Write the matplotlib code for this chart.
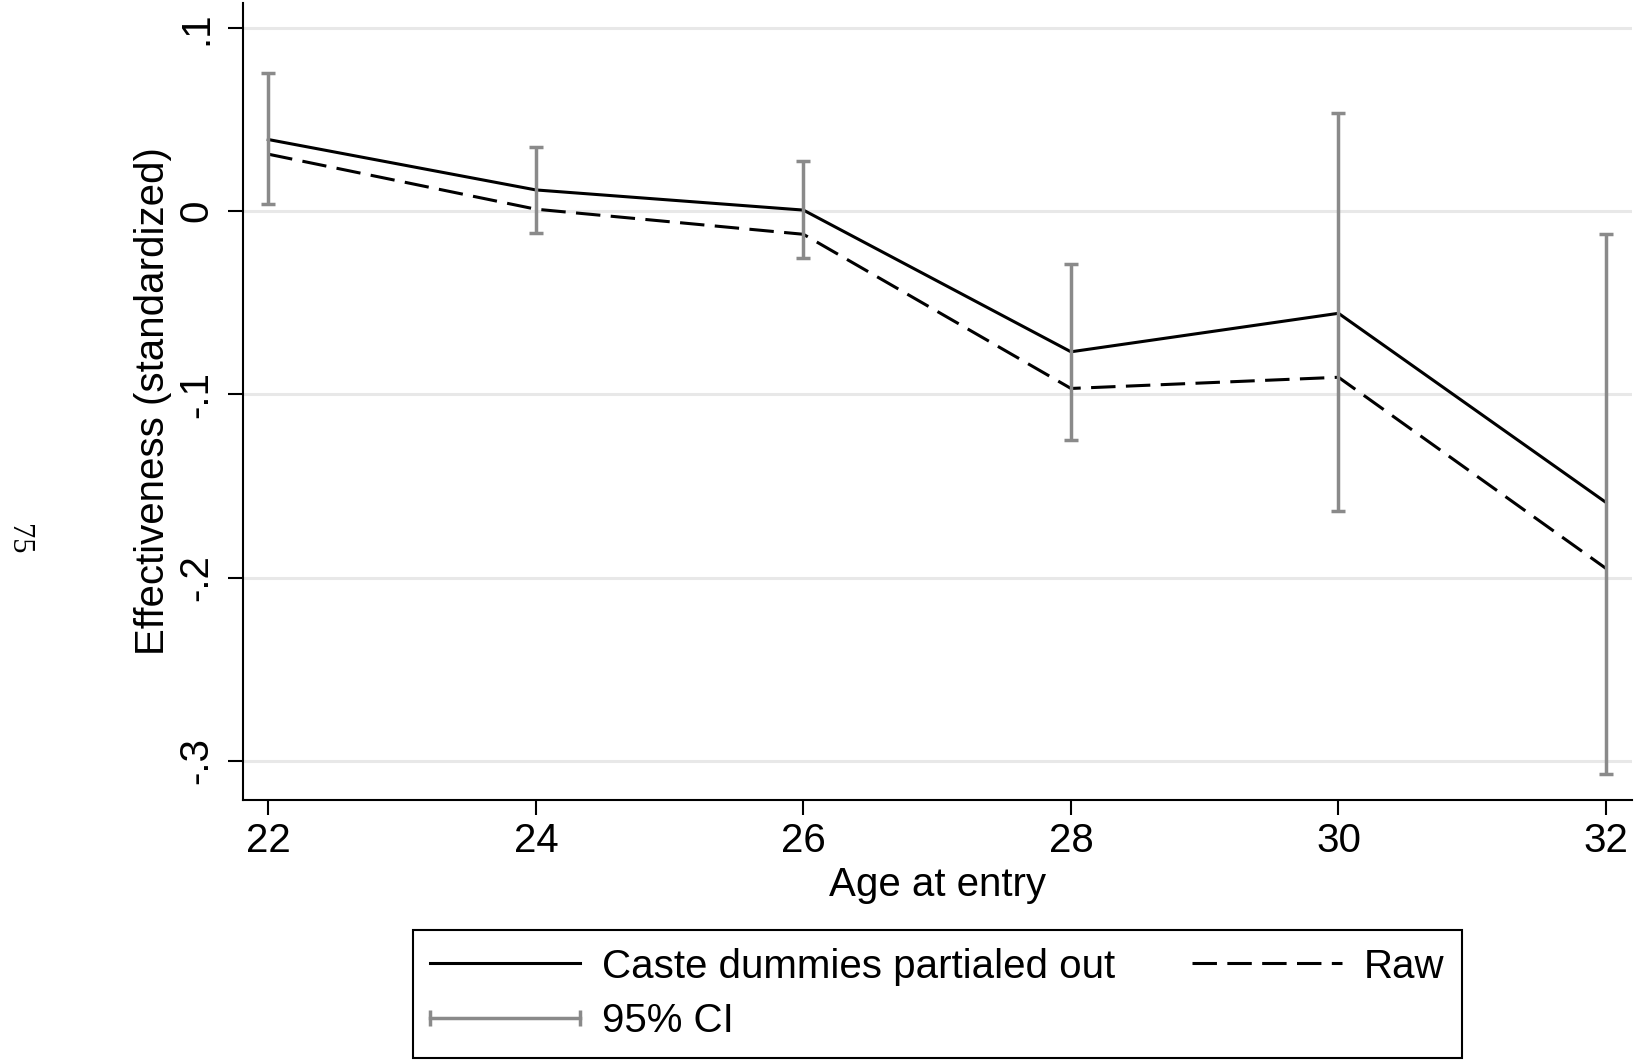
import matplotlib
matplotlib.use('Agg')
import matplotlib.pyplot as plt
from matplotlib.lines import Line2D
from matplotlib.legend_handler import HandlerLine2D

plt.rcParams['font.family'] = ['Liberation Sans', 'DejaVu Sans']

# Data
age = [22, 24, 26, 28, 30, 32]
partialed = [0.039, 0.0115, 0.0005, -0.0768, -0.0558, -0.159]
raw = [0.031, 0.001, -0.0127, -0.0968, -0.0907, -0.195]
ci_upper = [0.0751, 0.035, 0.0273, -0.029, 0.0536, -0.0124]
ci_lower = [0.004, -0.0118, -0.0255, -0.1247, -0.1636, -0.307]

y_ticks = [0.1, 0, -0.1, -0.2, -0.3]
y_ticklabels = ['.1', '0', '-.1', '-.2', '-.3']
x_ticks = [22, 24, 26, 28, 30, 32]

W, H = 1637, 1061
fig = plt.figure(figsize=(W / 100, H / 100), dpi=100)
ax = fig.add_axes([243 / W, 1 - 800 / H, (1632 - 243) / W, (800 - 3) / H])

gray = '#8a8a8a'
fs = 29
dash = (0, (8.0, 3.4))

# grid lines
for y in y_ticks:
    ax.axhline(y, color='#e8e8e8', linewidth=2.2, zorder=0)

# confidence intervals
mid = [(u + l) / 2 for u, l in zip(ci_upper, ci_lower)]
err = [[m - l for m, l in zip(mid, ci_lower)], [u - m for u, m in zip(ci_upper, mid)]]
ax.errorbar(age, mid, yerr=err, fmt='none', ecolor=gray, elinewidth=2.5,
            capsize=5.2, capthick=2.5, zorder=3)

ax.plot(age, partialed, color='black', linewidth=2.2, zorder=2)
ax.plot(age, raw, color='black', linewidth=2.2, linestyle=dash, zorder=2)

ax.set_xlim(21.811, 32.194)
ax.set_ylim(-0.3213, 0.11347)
ax.set_xticks(x_ticks)
ax.set_yticks(y_ticks)
ax.set_yticklabels(y_ticklabels)

for side in ['top', 'right']:
    ax.spines[side].set_visible(False)
for side in ['left', 'bottom']:
    ax.spines[side].set_linewidth(1.5)

ax.tick_params(axis='both', direction='out', length=10.8, width=1.5, labelsize=fs)
ax.tick_params(axis='x', pad=5)
ax.tick_params(axis='y', pad=9, labelrotation=90)
for lab in ax.get_yticklabels():
    lab.set_verticalalignment('center')

ax.set_xlabel('Age at entry', fontsize=fs)
ax.set_ylabel('Effectiveness (standardized)', fontsize=fs)
ax.xaxis.set_label_coords(0.5, -0.083)
ax.yaxis.set_label_coords(-0.0508, 0.5)

# legend
h_solid = Line2D([], [], color='black', linewidth=2.2)
h_raw = Line2D([], [], color='black', linewidth=2.2, linestyle=dash)
h_ci = Line2D([], [], color=gray, linewidth=2.5, marker='|', markersize=12,
              markeredgewidth=2.5)
leg = ax.legend([h_solid, h_ci, h_raw],
                ['Caste dummies partialed out', '95% CI', 'Raw'],
                ncol=2, fontsize=fs, loc='center',
                bbox_to_anchor=(937.5 / W, 1 - 994 / H), bbox_transform=fig.transFigure,
                frameon=True, fancybox=False, framealpha=1, edgecolor='black',
                handlelength=3.72, handletextpad=0.55, columnspacing=1.9,
                borderpad=0.44, labelspacing=0.42, numpoints=1,
                handler_map={h_ci: HandlerLine2D(numpoints=2, marker_pad=0)})
leg.get_frame().set_linewidth(1.5)

# page number in the margin
fig.text(18 / W, 1 - 539 / H, '75', rotation=-90, fontsize=22,
         family=['Liberation Serif', 'DejaVu Serif'], ha='center', va='center')

fig.savefig('out.png', dpi=100, facecolor='white')
